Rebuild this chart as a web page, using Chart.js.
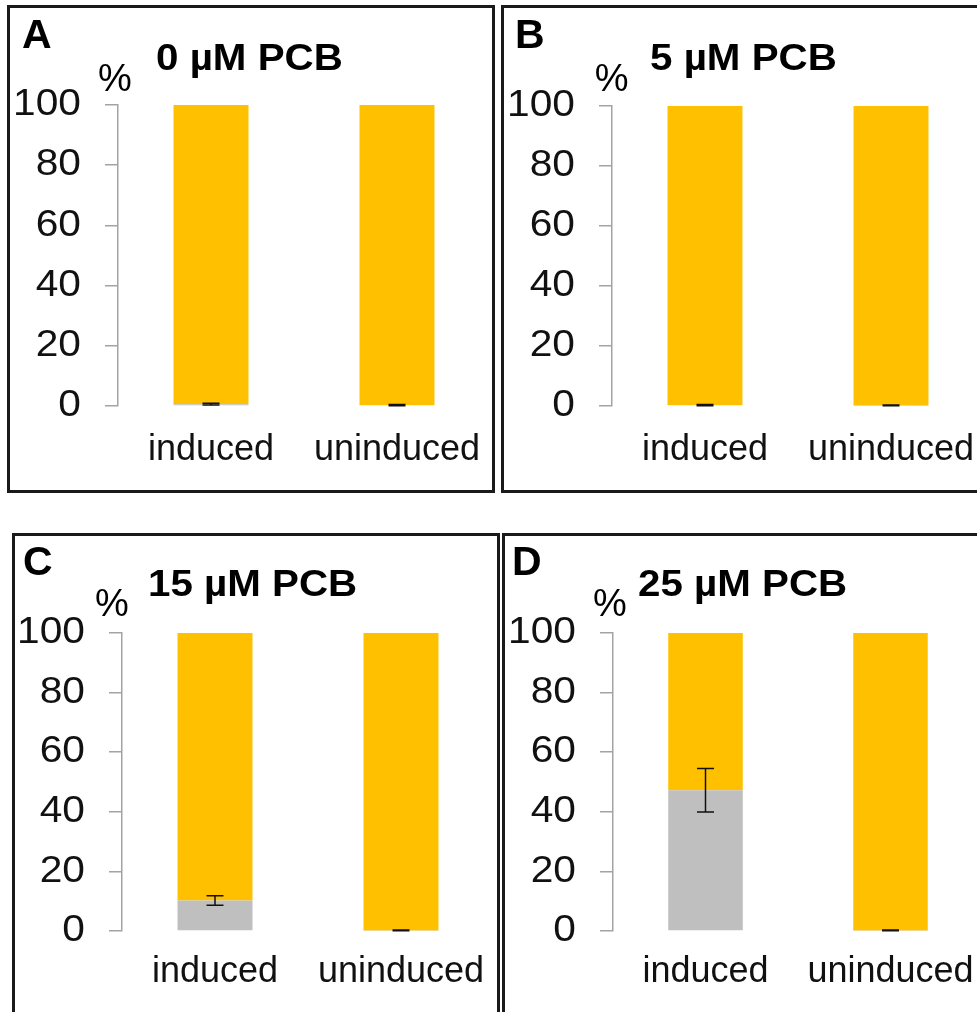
<!DOCTYPE html>
<html>
<head>
<meta charset="utf-8">
<script src="https://cdn.jsdelivr.net/npm/chart.js@4.4.1/dist/chart.umd.min.js"></script>
<style>
  html, body { margin: 0; padding: 0; background: #fff; }
  body { width: 977px; height: 1012px; position: relative; overflow: hidden;
         font-family: 'Liberation Sans', Arial, sans-serif; color: #000; }
  canvas { position: absolute; }
  .frame { position: absolute; box-sizing: border-box; border: 3px solid #1a1a1a; pointer-events: none; }
  .txt { position: absolute; white-space: nowrap; line-height: 1; }
  .letter { font-weight: bold; font-size: 41px; }
  .title { font-weight: bold; font-size: 36px; transform: scaleX(1.12); transform-origin: 0 0; }
  .unit { font-size: 38px; }
</style>
</head>
<body>
<script>
// ---- data -------------------------------------------------------------
const categories = ['induced', 'uninduced'];
const panelLetters = ['A', 'B', 'C', 'D'];
const panelTitles = ['0 µM PCB', '5 µM PCB', '15 µM PCB', '25 µM PCB'];
const unitLabel = '%';
const yTicks = [0, 20, 40, 60, 80, 100];

// grey (bottom) segment per panel: [induced, uninduced]
const greyValues  = [[0.6, 0.3], [0.3, 0.2], [10.2, 0.2], [47.2, 0.2]];
const greyErrors  = [[0.3, 0.2], [0.2, 0.1], [1.6, 0.1], [7.3, 0.1]];
// yellow (top) segment per panel: [induced, uninduced]
const yellowValues = [[99.4, 99.7], [99.7, 99.8], [89.8, 99.8], [52.8, 99.8]];

// ---- layout -----------------------------------------------------------
const panels = [
  { left: 0,   top: 0,   width: 490, height: 492, axisW: 118, areaTop: 105, areaBottom: 406, labelMid: 450.5 },
  { left: 490, top: 0,   width: 494, height: 492, axisW: 122, areaTop: 106, areaBottom: 406, labelMid: 450.5 },
  { left: 0,   top: 520, width: 494, height: 492, axisW: 122, areaTop: 113, areaBottom: 411, labelMid: 452 },
  { left: 490, top: 520, width: 493, height: 492, axisW: 123, areaTop: 113, areaBottom: 411, labelMid: 452 }
];
const frames = [
  { left: 7,   top: 5,   width: 488, height: 488 },
  { left: 501, top: 5,   width: 500, height: 488 },
  { left: 12,  top: 533, width: 488, height: 500 },
  { left: 502, top: 533, width: 500, height: 500 }
];
const letterPos = [[22, 14], [515, 14], [23, 541], [512, 541]];
const titlePos  = [[156, 39.5], [650, 39.5], [147.5, 566], [638, 566]];
const unitPos   = [[98, 58.8], [594.7, 58.8], [95, 583.8], [593, 583.8]];

const FONT = "'Liberation Sans', Arial, sans-serif";
const YELLOW = '#FFC000';
const GREY = '#BFBFBF';
const AXIS = '#a3a3a3';
const tickStretch = 1.1;

// y scale whose tick labels are drawn a little wider than the base font
class WideLabelScale extends Chart.LinearScale {
  drawLabels(chartArea) {
    const ctx = this.ctx;
    const anchor = this.right - this.options.grid.tickLength - this.options.ticks.padding;
    ctx.save();
    ctx.translate(anchor, 0);
    ctx.scale(tickStretch, 1);
    ctx.translate(-anchor, 0);
    super.drawLabels(chartArea);
    ctx.restore();
  }
}
WideLabelScale.id = 'wideLinear';
WideLabelScale.defaults = Chart.LinearScale.defaults;
Chart.register(WideLabelScale);

// error bars on the grey segment
const errorBarPlugin = {
  id: 'errorBars',
  afterDatasetsDraw(chart) {
    const ctx = chart.ctx;
    const y = chart.scales.y;
    chart.data.datasets.forEach((ds, di) => {
      if (!ds.errors) return;
      const meta = chart.getDatasetMeta(di);
      meta.data.forEach((bar, i) => {
        const v = ds.data[i], e = ds.errors[i];
        const yTop = y.getPixelForValue(v + e);
        const yBot = y.getPixelForValue(v - e);
        const x = bar.x, cap = 8.5;
        ctx.save();
        ctx.strokeStyle = '#111';
        ctx.lineWidth = 1.5;
        ctx.beginPath();
        ctx.moveTo(x, yTop); ctx.lineTo(x, yBot);
        ctx.moveTo(x - cap, yTop); ctx.lineTo(x + cap, yTop);
        ctx.moveTo(x - cap, yBot); ctx.lineTo(x + cap, yBot);
        ctx.stroke();
        ctx.restore();
      });
    });
  }
};

function addText(cls, text, pos) {
  const d = document.createElement('div');
  d.className = 'txt ' + cls;
  d.textContent = text;
  d.style.left = pos[0] + 'px';
  d.style.top = pos[1] + 'px';
  document.body.appendChild(d);
}

panels.forEach((p, i) => {
  const cv = document.createElement('canvas');
  cv.width = p.width; cv.height = p.height;
  cv.style.left = p.left + 'px'; cv.style.top = p.top + 'px';
  cv.style.width = p.width + 'px'; cv.style.height = p.height + 'px';
  document.body.appendChild(cv);

  const labelLine = (p.labelMid - p.areaBottom) * 2;

  new Chart(cv.getContext('2d'), {
    type: 'bar',
    data: {
      labels: categories,
      datasets: [
        { label: 'grey', data: greyValues[i], errors: greyErrors[i], backgroundColor: GREY,
          barPercentage: 0.403, categoryPercentage: 1, borderWidth: 0 },
        { label: 'yellow', data: yellowValues[i], backgroundColor: YELLOW,
          barPercentage: 0.403, categoryPercentage: 1, borderWidth: 0 }
      ]
    },
    options: {
      responsive: false,
      animation: false,
      devicePixelRatio: 1,
      layout: { padding: { top: p.areaTop, left: 0, right: 0, bottom: 0 } },
      plugins: { legend: { display: false }, title: { display: false }, tooltip: { enabled: false } },
      scales: {
        x: {
          stacked: true,
          grid: { display: false, drawTicks: false },
          border: { display: false },
          ticks: { padding: 0, color: '#111', maxRotation: 0, autoSkip: false,
                   font: { family: FONT, size: 36, lineHeight: labelLine + 'px' } },
          afterFit(scale) { scale.height = p.height - p.areaBottom; }
        },
        y: {
          type: 'wideLinear',
          stacked: true,
          min: 0, max: 100,
          afterBuildTicks(scale) { scale.ticks = yTicks.map(v => ({ value: v })); },
          grid: { display: true, drawOnChartArea: false, drawTicks: true, tickLength: 13,
                  color: AXIS, lineWidth: 1.5 },
          border: { display: true, color: AXIS, width: 1.5 },
          ticks: { padding: 24, color: '#111', font: { family: FONT, size: 37 } },
          afterFit(scale) { scale.width = p.axisW; }
        }
      }
    },
    plugins: [errorBarPlugin]
  });

  addText('letter', panelLetters[i], letterPos[i]);
  addText('title', panelTitles[i], titlePos[i]);
  addText('unit', unitLabel, unitPos[i]);

  const f = document.createElement('div');
  f.className = 'frame';
  f.style.left = frames[i].left + 'px';
  f.style.top = frames[i].top + 'px';
  f.style.width = frames[i].width + 'px';
  f.style.height = frames[i].height + 'px';
  document.body.appendChild(f);
});
</script>
</body>
</html>
